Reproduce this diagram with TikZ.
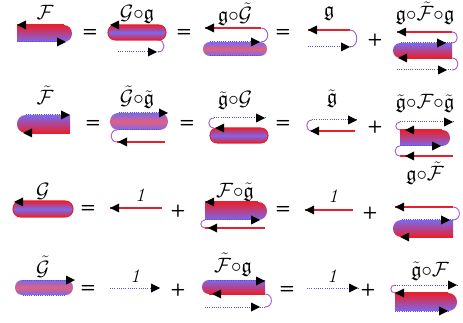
\documentclass[tikz,border=0pt]{standalone}
\usepackage{amssymb}
\usepackage{xcolor}
\definecolor{Rd}{HTML}{E8202E}
\definecolor{Bl}{HTML}{7B68EE}
\definecolor{Pk}{HTML}{E2607E}
\definecolor{Bd}{HTML}{5050E6}
\definecolor{Lp}{HTML}{A05AD2}
\usepackage{tikz}

\begin{document}
\begin{tikzpicture}[x=1pt,y=-1pt,
  rline/.style={draw=Rd,line width=1.1pt},
  bline/.style={draw=Bd,line width=1pt,dash pattern=on 1pt off 1.2pt},
  lp/.style={draw=Lp,line width=0.9pt},
  lbl/.style={inner sep=0pt,anchor=base,font=\huge},
  sgn/.style={inner sep=0pt,font=\LARGE\sffamily\bfseries},
  one/.style={inner sep=0pt,anchor=base,font=\fontsize{19}{22}\selectfont\itshape},
  pics/al/.style={code={\fill (0,0) -- (9,-4.5) -- (9,4.5) -- cycle;}},
  pics/ar/.style={code={\fill (0,0) -- (-9,-4.5) -- (-9,4.5) -- cycle;}},
  pics/Fb/.style 2 args={code={
    \shade[top color=Rd,bottom color=Bl] (0,0) -- ({#1-#2/2},0) .. controls ({#1+#2/6},0) and ({#1+#2/6},#2) .. ({#1-#2/2},#2) -- (0,#2) -- cycle;
    \draw[rline] (0,0) -- ({#1-#2/2},0);
    \draw[bline] (0,#2) -- ({#1-#2/2},#2);
  }},
  pics/Ftb/.style 2 args={code={
    \shade[top color=Bl,bottom color=Rd] (#1,0) -- ({#2/2},0) .. controls ({-#2/6},0) and ({-#2/6},#2) .. ({#2/2},#2) -- (#1,#2) -- cycle;
    \draw[bline] ({#2/2},0) -- (#1,0);
    \draw[rline] ({#2/2},#2) -- (#1,#2);
  }},
  pics/Gb/.style 2 args={code={
    \shade[top color=Rd,bottom color=Rd,middle color=Bl,draw=Rd,line width=1.1pt] ({#2/2},0) -- ({#1-#2/2},0) .. controls ({#1+#2/6},0) and ({#1+#2/6},#2) .. ({#1-#2/2},#2) -- ({#2/2},#2) .. controls ({-#2/6},#2) and ({-#2/6},0) .. ({#2/2},0) -- cycle;
  }},
  pics/Gtb/.style 2 args={code={
    \shade[top color=Bl,bottom color=Bl,middle color=Pk] ({#2/2},0) -- ({#1-#2/2},0) .. controls ({#1+#2/6},0) and ({#1+#2/6},#2) .. ({#1-#2/2},#2) -- ({#2/2},#2) .. controls ({-#2/6},#2) and ({-#2/6},0) .. ({#2/2},0) -- cycle;
    \draw[bline] ({#2/2},0) -- ({#1-#2/2},0);
    \draw[bline] ({#2/2},#2) -- ({#1-#2/2},#2);
  }}]
\useasboundingbox (0,0) rectangle (463,323);

\foreach \x/\y [count=\i] in {90/33, 184/33, 283/33, 93/124, 187/124, 283/124, 88/209, 283/210, 88/289, 287/290}
  \node[sgn] (eq\i) at (\x,\y) {=};
\foreach \x/\y [count=\i] in {375/40, 375/127, 178/211, 370/213, 178/290, 368/290}
  \node[sgn] (pl\i) at (\x,\y) {+};
\foreach \x/\y [count=\i] in {140/202, 333/203, 135/282, 332/282}
  \node[one] (one\i) at (\x,\y) {1};

% row 1
\node[lbl] (lF) at (45,20) {$\mathcal{F}$};
\pic at (17,25) {Fb={55}{17}};
\pic at (17,25) {al}; \pic at (66,42) {ar};

\node[lbl] (lGg) at (137,20) {$\mathcal{G}{\circ}\mathfrak{g}$};
\draw[lp] (158,40) .. controls (166,40) and (166,52) .. (158,52);
\draw[bline] (118,52) -- (158,52);
\pic at (108,25) {Gb={58}{15}};
\pic at (110,25) {al}; \pic at (157,52) {ar};

\node[lbl] (lgGt) at (235,22) {$\mathfrak{g}{\circ}\tilde{\mathcal{G}}$};
\draw[rline] (205,28) -- (261,28);
\draw[lp] (261,28) .. controls (270,28) and (270,42) .. (261,42);
\pic at (203,42) {Gtb={64}{14}};
\pic at (205,28) {al}; \pic at (260,42) {ar};

\node[lbl] (lg) at (329,17) {$\mathfrak{g}$};
\draw[rline] (308,30) -- (350,30);
\draw[lp] (350,30) .. controls (359,30) and (359,47) .. (350,47);
\draw[bline] (308,47) -- (350,47);
\pic at (308,30) {al}; \pic at (350,47) {ar};

\node[lbl] (lgFtg) at (425,21) {$\mathfrak{g}{\circ}\tilde{\mathcal{F}}{\circ}\mathfrak{g}$};
\draw[rline] (397,32) -- (452,32);
\draw[lp] (452,32) .. controls (459,32) and (459,43) .. (452,43);
\pic at (393,43) {Ftb={59}{15}};
\draw[lp] (452,58) .. controls (460,58) and (460,70) .. (452,70);
\draw[bline] (397,70) -- (452,70);
\pic at (397,32) {al}; \pic at (446,43) {ar};
\pic at (398,58) {al}; \pic at (447,70) {ar};

% row 2
\node[lbl] (lFt) at (45,105) {$\tilde{\mathcal{F}}$};
\pic at (17,115) {Ftb={53}{18}};
\pic at (70,115) {ar}; \pic at (23,133) {al};

\node[lbl] (lGtgt) at (137,105) {$\tilde{\mathcal{G}}{\circ}\tilde{\mathfrak{g}}$};
\draw[lp] (117,130) .. controls (109,130) and (109,142) .. (117,142);
\draw[rline] (117,142) -- (165,142);
\pic at (110,113) {Gtb={58}{17}};
\pic at (168,113) {ar}; \pic at (118,142) {al};

\node[lbl] (lgtG) at (235,106) {$\tilde{\mathfrak{g}}{\circ}\mathcal{G}$};
\draw[bline] (214,118) -- (265,118);
\draw[lp] (214,118) .. controls (207,118) and (207,128) .. (214,128);
\pic at (210,128) {Gb={58}{15}};
\pic at (265,118) {ar}; \pic at (215,128) {al};

\node[lbl] (lgt) at (332,104) {$\tilde{\mathfrak{g}}$};
\draw[bline] (312,120) -- (357,120);
\draw[lp] (312,120) .. controls (305,120) and (305,131) .. (312,131);
\draw[rline] (312,131) -- (355,131);
\pic at (357,120) {ar}; \pic at (310,131) {al};

\node[lbl] (lgtFgt) at (425,109) {$\tilde{\mathfrak{g}}{\circ}\mathcal{F}{\circ}\tilde{\mathfrak{g}}$};
\draw[bline] (400,122) -- (453,122);
\draw[lp] (400,122) .. controls (394.5,122) and (394.5,130) .. (400,130);
\pic at (400,130) {Fb={50}{16}};
\draw[lp] (400,146) .. controls (393.5,146) and (393.5,156) .. (400,156);
\draw[rline] (400,156) -- (453,156);
\pic at (453,122) {ar}; \pic at (405,130) {al};
\pic at (441,146) {ar}; \pic at (405,156) {al};

% row 3
\node[lbl] (lG) at (43,197) {$\mathcal{G}$};
\pic at (13,201) {Gb={60}{16}};
\pic at (14,202) {al};

\draw[rline] (110,208) -- (162,208);
\pic at (110,208) {al};

\node[lbl] (lFgt) at (235,197) {$\mathcal{F}{\circ}\tilde{\mathfrak{g}}$};
\pic at (205,202) {Fb={62}{18}};
\draw[lp] (205,220) .. controls (199.5,220) and (199.5,228) .. (205,228);
\draw[rline] (205,228) -- (265,228);
\pic at (205,202) {al}; \pic at (260,220) {ar};
\pic at (208,228) {al};

\draw[rline] (305,210) -- (353,210);
\pic at (305,210) {al};

\node[lbl] (lgFt) at (425,181) {$\mathfrak{g}{\circ}\tilde{\mathcal{F}}$};
\draw[rline] (395,207) -- (453,207);
\draw[lp] (453,207) .. controls (461.5,207) and (461.5,220) .. (453,220);
\pic at (393,220) {Ftb={60}{17}};
\pic at (395,207) {al}; \pic at (450,220) {ar};
\pic at (400,237) {al};

% row 4
\node[lbl] (lGt) at (43,275) {$\tilde{\mathcal{G}}$};
\pic at (15,280) {Gtb={58}{15}};
\pic at (75,280) {ar};

\draw[bline] (110,288) -- (160,288);
\pic at (160,288) {ar};

\node[lbl] (lFtg) at (233,272) {$\tilde{\mathcal{F}}{\circ}\mathfrak{g}$};
\pic at (202,280) {Ftb={63}{14}};
\draw[lp] (265,294) .. controls (273.5,294) and (273.5,307) .. (265,307);
\draw[bline] (205,307) -- (265,307);
\pic at (265,281) {ar}; \pic at (212,294) {al};
\pic at (260,307) {ar};

\draw[bline] (307,288) -- (358,288);
\pic at (358,288) {ar};

\node[lbl] (lgtF) at (430,276) {$\tilde{\mathfrak{g}}{\circ}\mathcal{F}$};
\draw[bline] (395,285) -- (457,285);
\draw[lp] (395,285) .. controls (389.5,285) and (389.5,293) .. (395,293);
\pic at (395,293) {Fb={62}{18}};
\pic at (457,285) {ar}; \pic at (395,293) {al};
\pic at (448,311) {ar};
\end{tikzpicture}
\end{document}
